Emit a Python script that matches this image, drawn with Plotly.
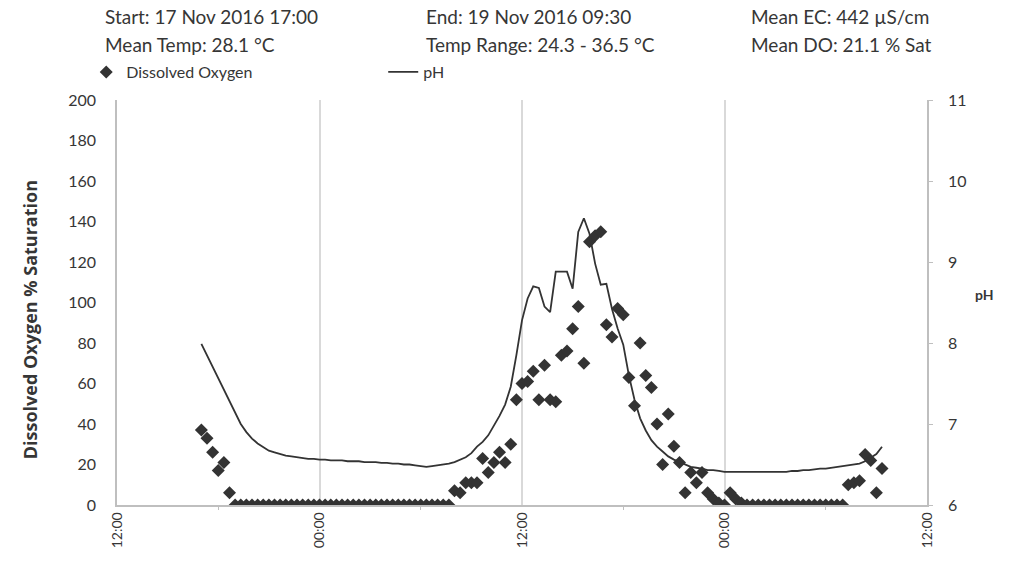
import pandas as pd
import plotly.graph_objects as go

# ---- data (20-minute logger readings) ----
start_time = "2016-11-17 17:00"
n_points = 122

do_sat = ([37, 33, 26, 17, 21, 6]
          + [0] * 39
          + [7, 6, 11, 11, 11, 23, 16, 21, 26, 21, 30]
          + [52, 60, 61, 66, 52, 69, 52, 51, 74, 76, 87, 98, 70]
          + [130, 133, 135]
          + [89, 83, 97, 94, 63, 49, 80, 64, 58, 40, 20, 45, 29, 21, 6, 16, 11, 16, 6, 3, 1]
          + [0]
          + [6, 3, 1]
          + [0] * 18
          + [10, 11, 12, 25, 22, 6, 18])

ph = ([7.99, 7.85, 7.70, 7.56, 7.43, 7.28, 7.13, 7.00, 6.90, 6.82, 6.76, 6.71, 6.67,
       6.65, 6.63, 6.61, 6.60, 6.59, 6.58, 6.57, 6.57, 6.56, 6.56, 6.55, 6.55]
      + [6.55, 6.54, 6.54, 6.54, 6.53, 6.53, 6.53, 6.52, 6.52, 6.51, 6.51, 6.50, 6.50,
         6.49, 6.48, 6.47, 6.48, 6.49, 6.50, 6.51]
      + [6.53, 6.56, 6.59, 6.64, 6.72, 6.78, 6.86, 6.98, 7.10, 7.24, 7.46]
      + [7.85, 8.28, 8.55, 8.70, 8.68, 8.45, 8.38, 8.88, 8.88, 8.88, 8.67, 9.37, 9.54,
         9.35, 8.98, 8.72]
      + [8.73, 8.42, 8.18, 7.98, 7.60, 7.30, 7.07, 6.92, 6.80, 6.72, 6.66, 6.60, 6.56,
         6.53, 6.49, 6.47, 6.46, 6.45, 6.43, 6.43, 6.42, 6.41]
      + [6.41] * 11
      + [6.42, 6.42, 6.43, 6.43, 6.44, 6.45, 6.45, 6.46]
      + [6.47, 6.48, 6.49, 6.50, 6.51, 6.54, 6.58, 6.63, 6.72])

times = pd.date_range(start_time, periods=n_points, freq="20min")

header_left = ["Start: 17 Nov 2016 17:00", "Mean Temp: 28.1 °C"]
header_mid = ["End: 19 Nov 2016 09:30", "Temp Range: 24.3 - 36.5 °C"]
header_right = ["Mean EC: 442 µS/cm", "Mean DO: 21.1 % Sat"]

FONT = "Lato"
TXT = "#363636"
DARK = "#333333"

fig = go.Figure()
fig.add_trace(go.Scatter(
    x=times, y=do_sat, mode="markers", name="Dissolved Oxygen",
    marker=dict(symbol="diamond", size=10, color=DARK),
    yaxis="y"))
fig.add_trace(go.Scatter(
    x=times, y=ph, mode="lines", name="pH",
    line=dict(color=DARK, width=1.8),
    yaxis="y2"))

annotations = []
for col, xp in ((header_left, -0.0173), (header_mid, 0.379), (header_right, 0.780)):
    for txt, yp in zip(col, (1.205, 1.138)):
        annotations.append(dict(text=txt, x=xp, y=yp, xref="paper", yref="paper",
                                xanchor="left", yanchor="middle", showarrow=False,
                                font=dict(family=FONT, size=19, color=TXT)))
annotations.append(dict(text="<b>Dissolved Oxygen % Saturation</b>", x=-0.107, y=0.457,
                        xref="paper", yref="paper", textangle=-90, showarrow=False,
                        xanchor="center", yanchor="middle",
                        font=dict(family="Open Sans", size=18, color=TXT)))
annotations.append(dict(text="<b>pH</b>", x=1.057, y=0.519, xref="paper", yref="paper",
                        xanchor="left", yanchor="middle", showarrow=False,
                        font=dict(family=FONT, size=14, color=TXT)))

fig.update_layout(
    width=1010, height=561,
    margin=dict(l=117, r=83, t=100, b=56, autoexpand=False),
    paper_bgcolor="white", plot_bgcolor="white",
    font=dict(family=FONT, size=15, color=TXT),
    showlegend=True,
    legend=dict(orientation="h", x=-0.038, y=1.069, xanchor="left", yanchor="middle",
                entrywidth=252, entrywidthmode="pixels",
                font=dict(family=FONT, size=16, color=TXT),
                bgcolor="rgba(0,0,0,0)"),
    annotations=annotations,
    xaxis=dict(type="date", range=["2016-11-17 12:00", "2016-11-19 12:00"],
               dtick=12 * 3600 * 1000, tick0="2016-11-17 12:00", tickformat="%H:%M",
               tickangle=-90, showgrid=True, gridcolor="#d9d9d9", gridwidth=2,
               showline=True, linecolor="#bfbfbf", linewidth=1.5, zeroline=False,
               ticks="", ticklabelstandoff=0,
               minor=dict(dtick=6 * 3600 * 1000, tick0="2016-11-17 12:00",
                          ticks="outside", ticklen=3, tickcolor="#bfbfbf", showgrid=False),
               tickfont=dict(family=FONT, size=14, color=TXT)),
    yaxis=dict(range=[0, 200], dtick=20, showgrid=False, zeroline=False,
               showline=True, linecolor="#bfbfbf", linewidth=1.5,
               ticks="", ticklabelstandoff=16,
               tickfont=dict(family=FONT, size=16, color=TXT)),
    yaxis2=dict(range=[6, 11], dtick=1, overlaying="y", side="right",
                showgrid=False, zeroline=False, showline=True,
                linecolor="#bfbfbf", linewidth=1.5,
                ticks="outside", ticklen=4, tickcolor="#bfbfbf",
                ticklabelstandoff=12,
                tickfont=dict(family=FONT, size=16, color=TXT)),
)

fig.write_html("out.html")
